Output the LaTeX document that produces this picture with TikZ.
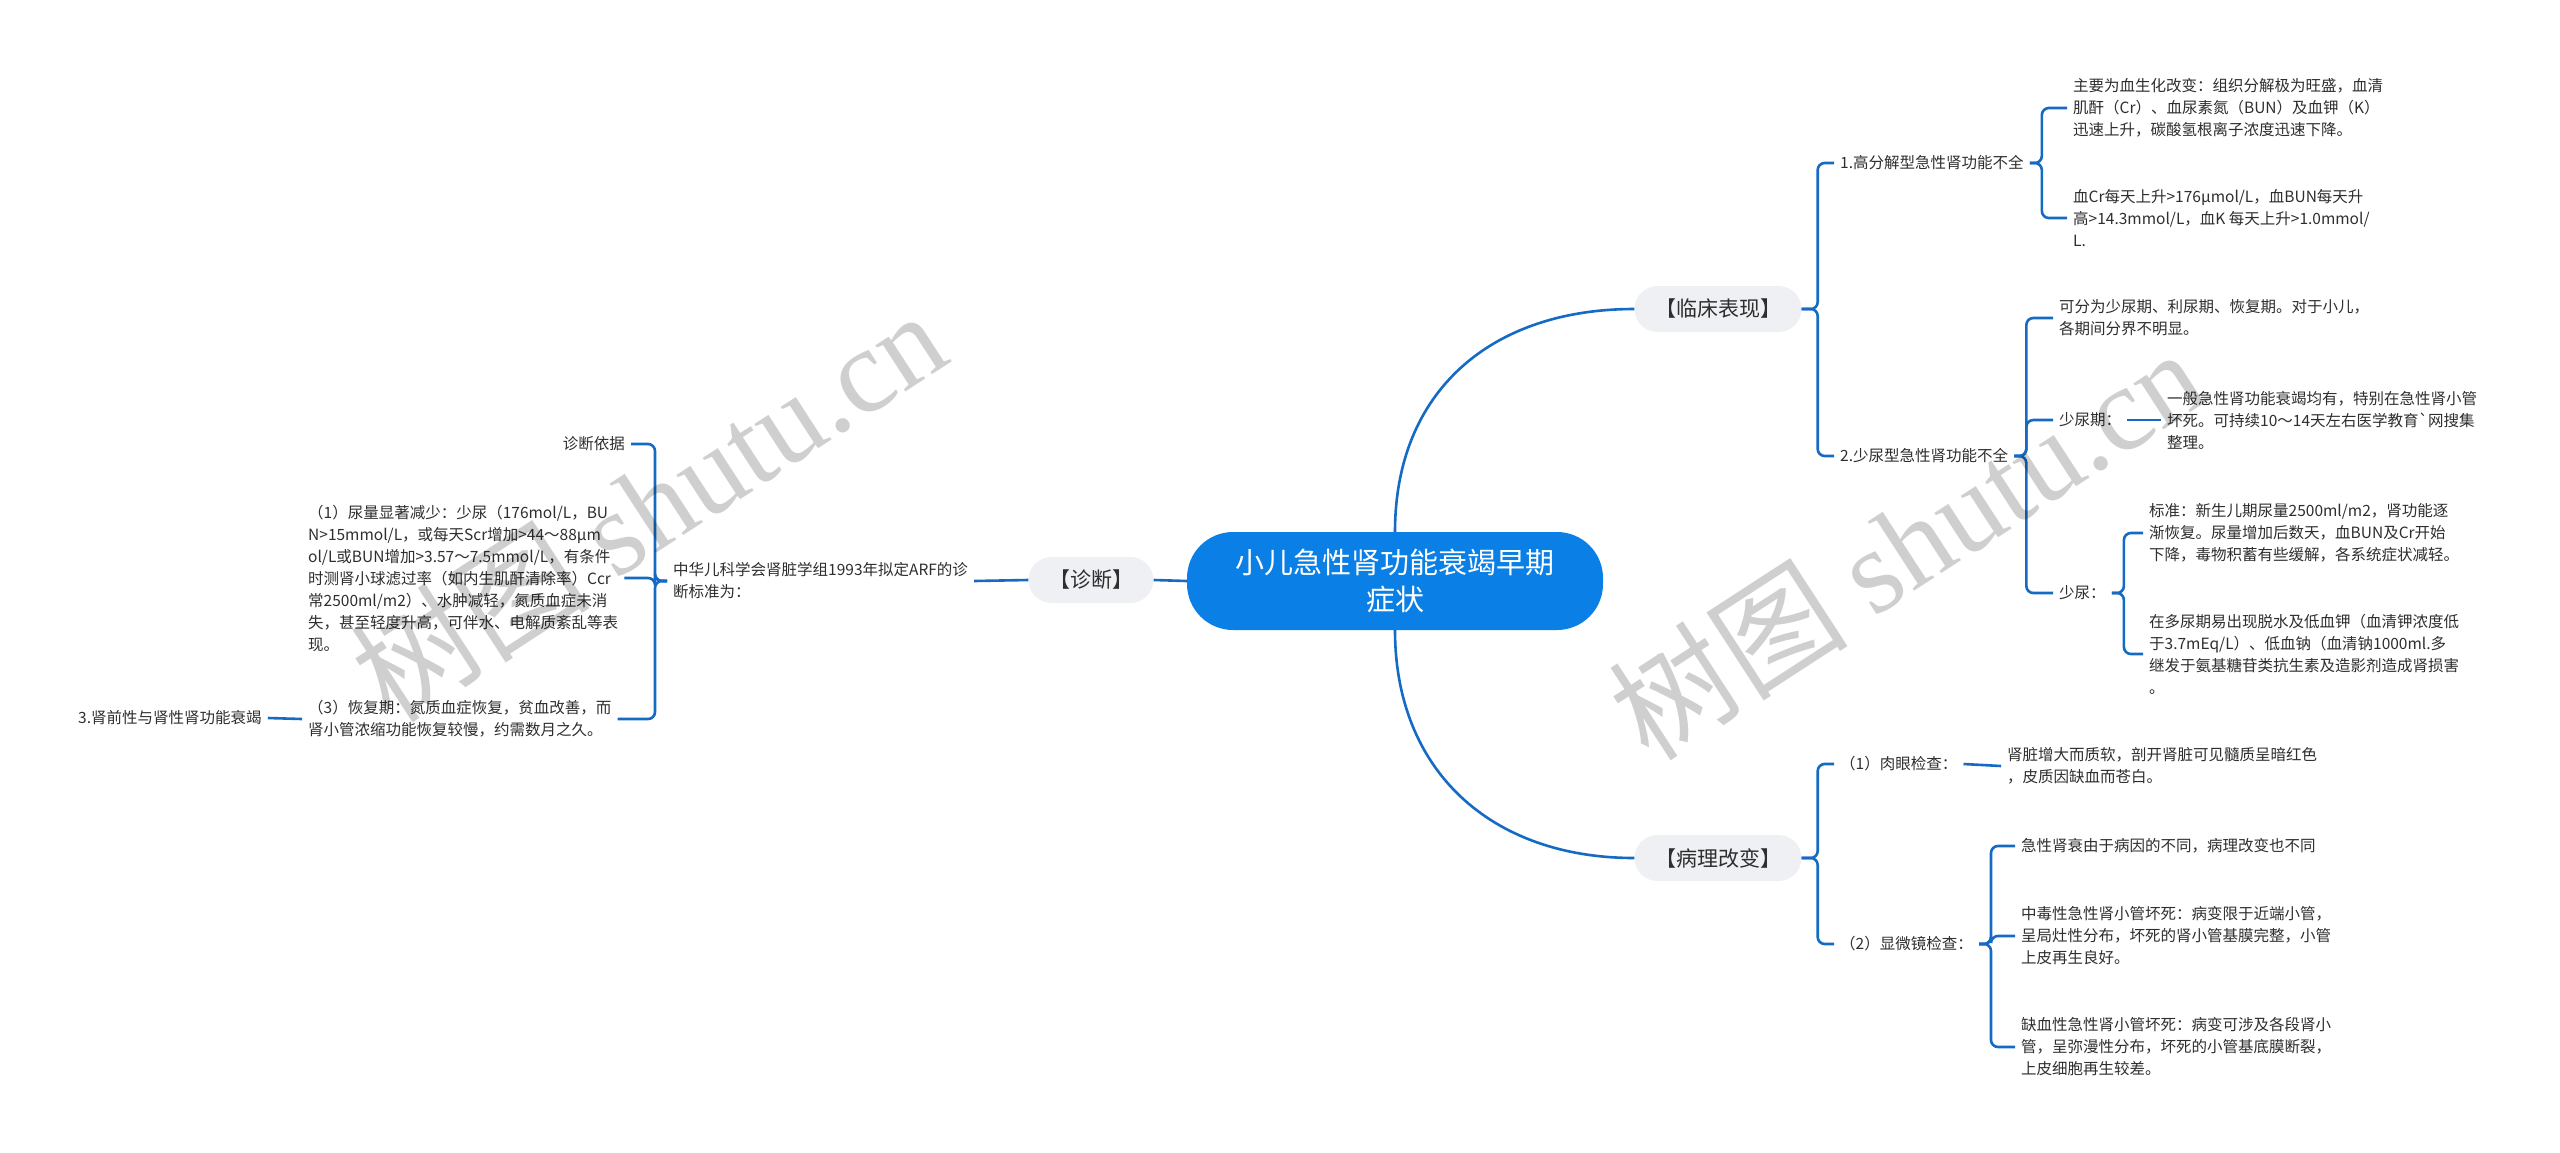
\documentclass[tikz,border=0pt]{standalone}
\usepackage{fontspec}
\setmainfont{Noto Sans CJK SC}
\newfontfamily\wmlatin{Liberation Serif}
\definecolor{rootblue}{HTML}{0A80E6}
\definecolor{linkblue}{HTML}{156BC4}
\definecolor{topicgray}{HTML}{EEF0F4}
\definecolor{inkgray}{HTML}{2E2E2E}

\begin{document}
\begin{tikzpicture}[
    x=1pt, y=-1pt,
    root/.style={
        rectangle,
        fill=rootblue,
        rounded corners=46pt,
        minimum width=416pt,
        minimum height=98pt,
        text=white,
        font=\fontsize{29}{37}\selectfont,
        align=center
    },
    topic/.style={
        rectangle,
        fill=topicgray,
        rounded corners=23pt,
        minimum height=46pt,
        text=inkgray,
        font=\fontsize{21}{26}\selectfont
    },
    leaf/.style={
        text=inkgray,
        font=\fontsize{15.5}{22}\selectfont,
        align=left,
        inner xsep=6pt,
        inner ysep=3pt
    },
    link/.style={draw=linkblue, line width=2.6pt, rounded corners=7pt},
    wmark/.style={text=black, text opacity=0.19, font=\fontsize{120}{120}\selectfont},
]

\fill[white] (0,0) rectangle (2560,1152);
\useasboundingbox (0,0) rectangle (2560,1152);

% === CENTER ===
\node[root] (root) at (1395,581) {小儿急性肾功能衰竭早期\\症状};

\node[topic, minimum width=125pt] (diag) at (1091,580) {【诊断】};
\node[topic, minimum width=167pt] (clin) at (1718,309) {【临床表现】};
\node[topic, minimum width=167pt] (path) at (1718,858) {【病理改变】};

% === LEFT: diagnosis ===
\node[leaf, anchor=west] (std) at (667,581)
{中华儿科学会肾脏学组1993年拟定ARF的诊\\断标准为：};
\node[leaf, anchor=east] (basis) at (631,444) {诊断依据};
\node[leaf, anchor=west] (oligo) at (302,578)
{（1）尿量显著减少：少尿（176mol/L，BU\\N>15mmol/L，或每天Scr增加>44～88μm\\ol/L或BUN增加>3.57～7.5mmol/L，有条件\\时测肾小球滤过率（如内生肌酐清除率）Ccr\\常2500ml/m2）、水肿减轻，氮质血症未消\\失，甚至轻度升高，可伴水、电解质紊乱等表\\现。};
\node[leaf, anchor=west] (recov) at (302,719)
{（3）恢复期：氮质血症恢复，贫血改善，而\\肾小管浓缩功能恢复较慢，约需数月之久。};
\node[leaf, anchor=west] (prerenal) at (72,718) {3.肾前性与肾性肾功能衰竭};

% === RIGHT TOP: clinical ===
\node[leaf, anchor=west] (hyper) at (1834,163) {1.高分解型急性肾功能不全};
\node[leaf, anchor=west] (hyperA) at (2067,108)
{主要为血生化改变：组织分解极为旺盛，血清\\肌酐（Cr）、血尿素氮（BUN）及血钾（K）\\迅速上升，碳酸氢根离子浓度迅速下降。};
\node[leaf, anchor=west] (hyperB) at (2067,218)
{血Cr每天上升>176μmol/L，血BUN每天升\\高>14.3mmol/L，血K 每天上升>1.0mmol/\\L.};

\node[leaf, anchor=west] (oli) at (1834,456) {2.少尿型急性肾功能不全};
\node[leaf, anchor=west] (oliA) at (2053,318)
{可分为少尿期、利尿期、恢复期。对于小儿，\\各期间分界不明显。};
\node[leaf, anchor=west] (olistage) at (2053,420) {少尿期：};
\node[leaf, anchor=west] (olistageA) at (2161,420)
{一般急性肾功能衰竭均有，特别在急性肾小管\\坏死。可持续10～14天左右医学教育\textasciigrave 网搜集\\整理。};
\node[leaf, anchor=west] (olu) at (2053,593) {少尿：};
\node[leaf, anchor=west] (oluA) at (2143,533)
{标准：新生儿期尿量2500ml/m2，肾功能逐\\渐恢复。尿量增加后数天，血BUN及Cr开始\\下降，毒物积蓄有些缓解，各系统症状减轻。};
\node[leaf, anchor=west] (oluB) at (2143,654)
{在多尿期易出现脱水及低血钾（血清钾浓度低\\于3.7mEq/L）、低血钠（血清钠1000ml.多\\继发于氨基糖苷类抗生素及造影剂造成肾损害\\。};

% === RIGHT BOTTOM: pathology ===
\node[leaf, anchor=west] (gross) at (1834,764) {（1）肉眼检查：};
\node[leaf, anchor=west] (grossA) at (2001,766)
{肾脏增大而质软，剖开肾脏可见髓质呈暗红色\\，皮质因缺血而苍白。};
\node[leaf, anchor=west] (micro) at (1834,944) {（2）显微镜检查：};
\node[leaf, anchor=west] (microA) at (2015,846) {急性肾衰由于病因的不同，病理改变也不同};
\node[leaf, anchor=west] (microB) at (2015,936)
{中毒性急性肾小管坏死：病变限于近端小管，\\呈局灶性分布，坏死的肾小管基膜完整，小管\\上皮再生良好。};
\node[leaf, anchor=west] (microC) at (2015,1047)
{缺血性急性肾小管坏死：病变可涉及各段肾小\\管，呈弥漫性分布，坏死的小管基底膜断裂，\\上皮细胞再生较差。};

% === LINKS ===
\draw[link] (root.west) -- (diag.east);
\draw[link] (root.north) .. controls +(0,-140) and +(-144,0) .. (clin.west);
\draw[link] (root.south) .. controls +(0,140) and +(-144,0) .. (path.west);

\draw[link] (diag.west) -- (std.east);
\foreach \kid in {basis,oligo,recov}
    \draw[link] (std.west) -- ++(-12,0) |- (\kid.east);
\draw[link] (recov.west) -- (prerenal.east);

\foreach \kid in {hyper,oli}
    \draw[link] (clin.east) -- ++(16,0) |- (\kid.west);
\foreach \kid in {hyperA,hyperB}
    \draw[link] (hyper.east) -- ++(12,0) |- (\kid.west);
\foreach \kid in {oliA,olistage,olu}
    \draw[link] (oli.east) -- ++(12,0) |- (\kid.west);
\draw[link] (olistage.east) -- (olistageA.west);
\foreach \kid in {oluA,oluB}
    \draw[link] (olu.east) -- ++(12,0) |- (\kid.west);

\foreach \kid in {gross,micro}
    \draw[link] (path.east) -- ++(16,0) |- (\kid.west);
\draw[link] (gross.east) -- (grossA.west);
\foreach \kid in {microA,microB,microC}
    \draw[link] (micro.east) -- ++(12,0) |- (\kid.west);

% watermark
\node[wmark, rotate=33] (wmleft) at (648,505) {树图 {\wmlatin shutu.cn}};
\node[wmark, rotate=33] (wmright) at (1906,543) {树图 {\wmlatin shutu.cn}};

\end{tikzpicture}
\end{document}
